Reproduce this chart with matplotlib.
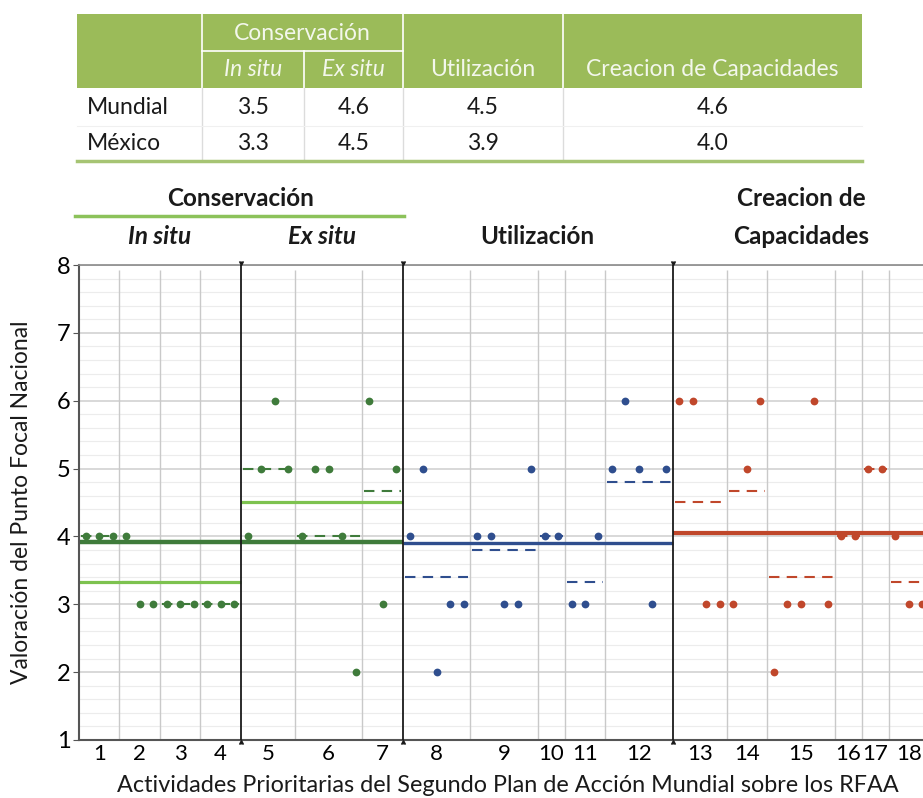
import numpy as np
import matplotlib
matplotlib.use("Agg")
import matplotlib.pyplot as plt
from matplotlib.patches import Rectangle
from matplotlib.lines import Line2D
import matplotlib.transforms as mtransforms

plt.rcParams['font.family'] = ['Lato', 'DejaVu Sans']

# ---------------- data ----------------
activity_labels = [str(i) for i in range(1, 19)]
scores = [
    [4, 4, 4],          # 1
    [4, 3, 3],          # 2
    [3, 3, 3],          # 3
    [3, 3, 3],          # 4
    [4, 5, 6, 5],       # 5
    [4, 5, 5, 4, 2],    # 6
    [6, 3, 5],          # 7
    [4, 5, 2, 3, 3],    # 8
    [4, 4, 3, 3, 5],    # 9
    [4, 4],             # 10
    [3, 3, 4],          # 11
    [5, 6, 5, 3, 5],    # 12
    [6, 6, 3, 3],       # 13
    [3, 5, 6],          # 14
    [2, 3, 3, 6, 3],    # 15
    [4, 4],             # 16
    [5, 5],             # 17
    [4, 3, 3],          # 18
]
# activity index ranges (0-based, start inclusive, end exclusive) per group
sections = {"Conservación": (0, 7), "Utilización": (7, 12), "Creacion de Capacidades": (12, 18)}
subsections = {"In situ": (0, 4), "Ex situ": (4, 7)}

table_cols = ["In situ", "Ex situ", "Utilización", "Creacion de Capacidades"]
table_rows = ["Mundial", "México"]
table_mundial = ["3.5", "4.6", "4.5", "4.6"]
table_mexico = ["3.3", "4.5", "3.9", "4.0"]

# ---------------- styles ----------------
W, H = 923, 798
green_dark = '#3f7b3b'
green_light = '#7dc24f'
blue = '#2f4e8e'
red = '#c0472b'
sec_colors = {"Conservación": green_dark, "Utilización": blue, "Creacion de Capacidades": red}
sec_lw = {"Conservación": 3.2, "Utilización": 2.4, "Creacion de Capacidades": 3.0}
table_green = '#9bbb59'
txt = '#1a1a1a'

fig = plt.figure(figsize=(W / 100, H / 100), dpi=100)

# overlay axes in pixel coordinates for the table
ov = fig.add_axes([0, 0, 1, 1])
ov.set_xlim(0, W)
ov.set_ylim(H, 0)
ov.axis('off')

ax = fig.add_axes([79 / W, 1 - 740 / H, 1 - 79 / W, (740 - 265) / H])

# ---------------- positions from data ----------------
counts = np.array([len(s) for s in scores])
starts = np.concatenate([[0], np.cumsum(counts)[:-1]])
ends = starts + counts
bounds = ends - 0.5
centers = (starts - 0.5 + ends - 0.5) / 2

# grid
for yv in np.arange(1, 8.01, 0.2):
    major = abs(yv - round(yv)) < 1e-6
    ax.axhline(yv, color='#d2d2d2' if major else '#ececec', lw=1.2 if major else 0.8, zorder=0)

sep_idx = [subsections["In situ"][1] - 1, sections["Conservación"][1] - 1, sections["Utilización"][1] - 1]
for i, b in enumerate(bounds[:-1]):
    if i in sep_idx:
        ax.axvline(b, color='#1a1a1a', lw=1.3, zorder=3)
        ax.plot([b], [8], marker=7, ms=3.5, color='#1a1a1a', clip_on=False, zorder=4)
        ax.plot([b], [1], marker=6, ms=3.5, color='#1a1a1a', clip_on=False, zorder=4)
    else:
        ax.vlines(b, 1, 7.93, color='#c9c9c9', lw=1.0, zorder=0)

# section lines, activity means, points
for name, (a0, a1) in sections.items():
    col = sec_colors[name]
    vals = np.concatenate(scores[a0:a1])
    ax.hlines(vals.mean(), starts[a0] - 0.5, ends[a1 - 1] - 0.5, color=col, lw=sec_lw[name], zorder=2)
    for k in range(a0, a1):
        m = np.mean(scores[k])
        ax.plot([starts[k] - 0.35, ends[k] - 0.65], [m, m], color=col, lw=1.5,
                dashes=(5, 3.5), zorder=2)
        xs = np.arange(starts[k], ends[k])
        ax.plot(xs, scores[k], 'o', color=col, ms=5.6, mec='none', zorder=5, clip_on=True)

for name, (a0, a1) in subsections.items():
    vals = np.concatenate(scores[a0:a1])
    ax.hlines(vals.mean(), starts[a0] - 0.5, ends[a1 - 1] - 0.5, color=green_light, lw=2.3, zorder=2.5)

ax.set_xlim(-0.5, 62.05)
ax.set_ylim(1, 8)
ax.set_yticks(range(1, 9))
ax.set_yticklabels([str(i) for i in range(1, 9)], fontsize=17)
ax.set_xticks(centers)
ax.set_xticklabels(activity_labels, fontsize=16)
ax.tick_params(axis='x', length=0, pad=3)
ax.tick_params(axis='y', length=4, color='#555555', pad=2)
for s in ['left', 'bottom']:
    ax.spines[s].set_color('#555555')
    ax.spines[s].set_linewidth(1.5)
ax.spines['top'].set_color('#8a8a8a')
ax.spines['top'].set_linewidth(1.2)
ax.spines['right'].set_visible(False)

def fy(y):
    return 1 - y / H

fig.text(508 / W, fy(786), "Actividades Prioritarias del Segundo Plan de Acción Mundial sobre los RFAA",
         ha='center', va='center', fontsize=16.8, color=txt)
fig.text(22 / W, fy(502), "Valoración del Punto Focal Nacional", rotation=90,
         ha='center', va='center', fontsize=16.5, color=txt)

# headers above chart (x in data coords, y in figure coords)
bt = mtransforms.blended_transform_factory(ax.transData, fig.transFigure)
def grp_center(a0, a1):
    return (starts[a0] - 0.5 + ends[a1 - 1] - 0.5) / 2
hfs = 17.5
c0, c1 = sections["Conservación"]
ax.text(grp_center(c0, c1), fy(198), "Conservación", transform=bt, ha='center', va='center',
        fontsize=hfs, fontweight='bold', color=txt)
fig.add_artist(Line2D([starts[c0] - 0.8, ends[c1 - 1] - 0.45], [fy(216), fy(216)], transform=bt,
                      color='#8cc25a', lw=2.5))
for name, (a0, a1) in subsections.items():
    ax.text(grp_center(a0, a1), fy(237), name, transform=bt, ha='center', va='center',
            fontsize=hfs, fontweight='bold', style='italic', color=txt)
u0, u1 = sections["Utilización"]
ax.text(grp_center(u0, u1), fy(237), "Utilización", transform=bt, ha='center', va='center',
        fontsize=hfs, fontweight='bold', color=txt)
r0, r1 = sections["Creacion de Capacidades"]
rc = (starts[r0] - 0.5 + ends[r1 - 1] - 0.5) / 2
ax.text(rc, fy(198), "Creacion de", transform=bt, ha='center', va='center',
        fontsize=hfs, fontweight='bold', color=txt)
ax.text(rc, fy(237), "Capacidades", transform=bt, ha='center', va='center',
        fontsize=hfs, fontweight='bold', color=txt)

# ---------------- table ----------------
tx = [77, 202, 304, 403, 563, 862]
ty_top, ty_mid, ty_hdr, ty_bot = 14, 51, 88, 161
ov.add_patch(Rectangle((tx[0], ty_top), tx[-1] - tx[0], ty_hdr - ty_top, color=table_green, lw=0))
white = '#ffffff'
ov.plot([tx[1], tx[1]], [ty_top, ty_hdr], color=white, lw=1.2)
ov.plot([tx[2], tx[2]], [ty_mid, ty_hdr], color=white, lw=1.2)
ov.plot([tx[3], tx[3]], [ty_top, ty_hdr], color=white, lw=1.2)
ov.plot([tx[4], tx[4]], [ty_top, ty_hdr], color=white, lw=1.2)
ov.plot([tx[1], tx[3]], [ty_mid, ty_mid], color=white, lw=1.2)
for xv in tx[1:5]:
    ov.plot([xv, xv], [ty_hdr, ty_bot], color='#dcdcdc', lw=1.0)
ov.plot([tx[0], tx[-1]], [125.5, 125.5], color='#f0f0f0', lw=0.8)
ov.plot([tx[0], tx[-1]], [ty_bot, ty_bot], color='#a6c473', lw=2.5)

tfs = 16.5
hdr_col = '#f3f7ec'
ov.text((tx[1] + tx[3]) / 2, 33, "Conservación", ha='center', va='center', fontsize=tfs, color=hdr_col)
for j, name in enumerate(table_cols):
    cx = (tx[j + 1] + tx[j + 2]) / 2
    ov.text(cx, 70, name, ha='center', va='center', fontsize=tfs, color=hdr_col,
            style='italic' if j < 2 else 'normal')
    ov.text(cx, 107, table_mundial[j], ha='center', va='center', fontsize=tfs, color=txt)
    ov.text(cx, 144, table_mexico[j], ha='center', va='center', fontsize=tfs, color=txt)
ov.text(87, 107, table_rows[0], ha='left', va='center', fontsize=tfs, color=txt)
ov.text(87, 144, table_rows[1], ha='left', va='center', fontsize=tfs, color=txt)

fig.savefig("out.png", dpi=100)
